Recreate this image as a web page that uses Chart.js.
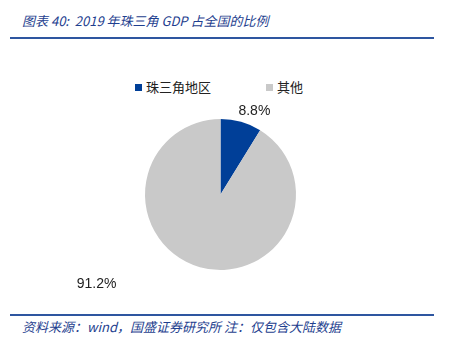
<!DOCTYPE html>
<html><head><meta charset="utf-8">
<script src="https://cdn.jsdelivr.net/npm/chart.js@4/dist/chart.umd.min.js"></script>
<style>
html,body{margin:0;padding:0;background:#fff;width:451px;height:346px;overflow:hidden;position:relative;font-family:"Noto Sans CJK SC","Noto Sans",sans-serif;}
#title{position:absolute;left:22px;top:11px;font-size:13px;font-style:italic;color:#1f3f8f;white-space:nowrap;}
#line1{position:absolute;left:10px;top:37px;width:424px;height:2px;background:#2e56a0;}
#line2{position:absolute;left:10px;top:314px;width:424px;height:1.5px;background:#2e56a0;}
#foot{position:absolute;left:22px;top:317px;font-size:13px;font-style:italic;color:#1f3f8f;white-space:nowrap;}
#legend{position:absolute;top:77px;left:0;width:451px;height:20px;font-size:13px;color:#222;}
.li{position:absolute;top:0;white-space:nowrap;}
.sw{display:inline-block;width:7px;height:7px;margin-right:4px;vertical-align:1px;}
#wrap{position:absolute;left:0;top:60px;width:451px;height:240px;}
</style></head><body>
<div id="title">图表 40:&nbsp; 2019 年珠三角 GDP 占全国的比例</div>
<div id="line1"></div>
<div id="legend"></div>
<div id="wrap"><canvas id="c"></canvas></div>
<div id="line2"></div>
<div id="foot">资料来源：wind，国盛证券研究所 注：仅包含大陆数据</div>
<script>
const categories = ["珠三角地区", "其他"];
const shareValues = [8.8, 91.2];
const sliceColors = ["#003f98", "#c9c9c9"];

// HTML legend built from the arrays
const legendLeft = [135, 266];
const lg = document.getElementById('legend');
categories.forEach((c,i)=>{
  const d=document.createElement('div'); d.className='li'; d.style.left=legendLeft[i]+'px';
  d.innerHTML='<span class="sw" style="background:'+sliceColors[i]+'"></span>'+c;
  lg.appendChild(d);
});

const labelPlugin = {
  id:'sliceLabels',
  afterDatasetsDraw(chart, args, opts){
    const ctx=chart.ctx; const meta=chart.getDatasetMeta(0);
    ctx.save();
    ctx.font='14px "Liberation Sans", Arial, sans-serif';
    ctx.fillStyle='#222'; ctx.textAlign='center'; ctx.textBaseline='middle';
    meta.data.forEach((arc,i)=>{
      const mid=(arc.startAngle+arc.endAngle)/2;
      const r=arc.outerRadius+opts.dist[i];
      const x=arc.x+Math.cos(mid)*r+opts.dx[i];
      const y=arc.y+Math.sin(mid)*r+opts.dy[i];
      ctx.fillText(shareValues[i].toFixed(1)+'%', x, y);
    });
    ctx.restore();
  }
};

new Chart(document.getElementById('c'),{
  type:'pie',
  data:{labels:categories,datasets:[{data:shareValues,backgroundColor:sliceColors,borderWidth:0}]},
  options:{
    responsive:true,maintainAspectRatio:false,animation:false,
    layout:{padding:{left:145,right:155,top:59,bottom:30}},
    plugins:{legend:{display:false},tooltip:{enabled:false},
      sliceLabels:{dist:[12,12],dx:[10,-100],dy:[1,5]}}
  },
  plugins:[labelPlugin]
});
</script>
</body></html>
